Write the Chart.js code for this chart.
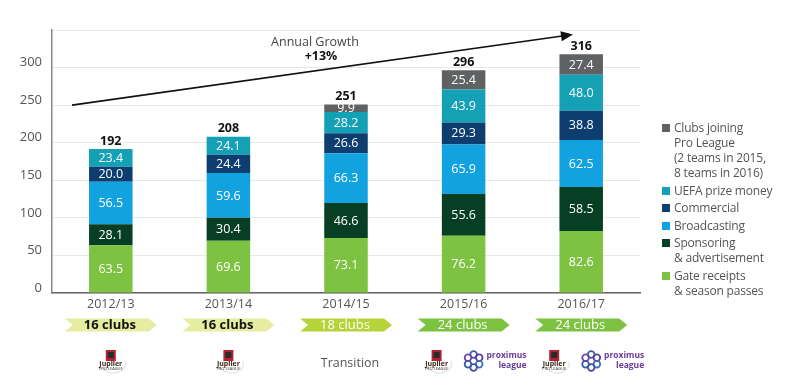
<!DOCTYPE html>
<html>
<head>
<meta charset="utf-8">
<script src="https://cdn.jsdelivr.net/npm/chart.js@4.4.0/dist/chart.umd.min.js"></script>
<style>
  html, body { margin: 0; padding: 0; background: #fff; }
  #wrap { position: relative; width: 800px; height: 387px; }
  #legend { position: absolute; left: 662px; top: 120px; font-family: "Open Sans", sans-serif; font-size: 12px; letter-spacing: -0.2px; color: #555; line-height: 15px; }
  #legend .item { position: relative; padding-left: 12px; margin-bottom: 2.5px; }
  #legend .sw { position: absolute; left: 0; top: 4px; width: 8px; height: 8px; }
</style>
</head>
<body>
<div id="wrap">
  <canvas id="c" width="800" height="387"></canvas>
  <div id="legend"></div>
</div>
<script>
const seasons = ["2012/13", "2013/14", "2014/15", "2015/16", "2016/17"];
const gateReceipts = [63.5, 69.6, 73.1, 76.2, 82.6];
const sponsoring = [28.1, 30.4, 46.6, 55.6, 58.5];
const broadcasting = [56.5, 59.6, 66.3, 65.9, 62.5];
const commercial = [20.0, 24.4, 26.6, 29.3, 38.8];
const uefaPrize = [23.4, 24.1, 28.2, 43.9, 48.0];
const clubsJoining = [null, null, 9.9, 25.4, 27.4];
const totals = [192, 208, 251, 296, 316];
const clubCounts = ["16 clubs", "16 clubs", "18 clubs", "24 clubs", "24 clubs"];
const leagueLogos = ["jupiler", "jupiler", "transition", "both", "both"];
const yTicks = [0, 50, 100, 150, 200, 250, 300];

const FONT = "'Open Sans', sans-serif";
const $ = (id) => document.getElementById(id);

const series = [
  { label: "Gate receipts\n& season passes", data: gateReceipts, color: "#7dc241" },
  { label: "Sponsoring\n& advertisement", data: sponsoring, color: "#073f24" },
  { label: "Broadcasting", data: broadcasting, color: "#12a2e0" },
  { label: "Commercial", data: commercial, color: "#0e3e70" },
  { label: "UEFA prize money", data: uefaPrize, color: "#14a1b5" },
  { label: "Clubs joining\nPro League\n(2 teams in 2015,\n8 teams in 2016)", data: clubsJoining, color: "#5f6163" }
];

function renderLegend() {
  const box = $("legend");
  [...series].reverse().forEach((s) => {
    const d = document.createElement("div");
    d.className = "item";
    d.innerHTML = `<span class="sw" style="background:${s.color}"></span>${s.label.replace(/\n/g, "<br>")}`;
    box.appendChild(d);
  });
}

function chevron(ctx, cx, cy, w, h, fill) {
  const l = cx - w / 2, r = cx + w / 2, n = 8;
  ctx.beginPath();
  ctx.moveTo(l, cy - h / 2);
  ctx.lineTo(r, cy - h / 2);
  ctx.lineTo(r + n, cy);
  ctx.lineTo(r, cy + h / 2);
  ctx.lineTo(l, cy + h / 2);
  ctx.lineTo(l + n, cy);
  ctx.closePath();
  ctx.fillStyle = fill;
  ctx.fill();
}

function jupilerLogo(ctx, cx, cy) {
  ctx.save();
  ctx.strokeStyle = "#e4e4e4";
  ctx.lineWidth = 1.2;
  ctx.beginPath();
  ctx.ellipse(cx + 3, cy + 4, 12, 9, 0, -0.3, Math.PI * 0.9);
  ctx.stroke();
  ctx.fillStyle = "#b52034";
  ctx.fillRect(cx - 5, cy - 10, 10, 11);
  ctx.fillStyle = "#2a2a2a";
  ctx.fillRect(cx - 3, cy - 8, 6, 6);
  ctx.fillStyle = "#3a2a1a";
  ctx.font = "bold 7px " + FONT;
  ctx.textAlign = "center";
  ctx.textBaseline = "middle";
  ctx.fillText("Jupiler", cx, cy + 4);
  ctx.font = "4px " + FONT;
  ctx.fillText("PRO LEAGUE", cx, cy + 9);
  ctx.restore();
}

function proximusLogo(ctx, cx, cy) {
  ctx.save();
  const cols = ["#3d59a8", "#5b3c96", "#3b6fb6", "#4a4aa0", "#2f5ea8", "#6a4aa0"];
  for (let k = 0; k < 6; k++) {
    const a = (k / 6) * Math.PI * 2 - Math.PI / 2;
    ctx.beginPath();
    ctx.arc(cx + Math.cos(a) * 6.5, cy + Math.sin(a) * 6.5, 3.3, 0, Math.PI * 2);
    ctx.strokeStyle = cols[k];
    ctx.lineWidth = 1.8;
    ctx.stroke();
  }
  ctx.fillStyle = "#6a3d9a";
  ctx.font = "bold 8.5px " + FONT;
  ctx.textAlign = "right";
  ctx.textBaseline = "middle";
  ctx.fillText("proximus", cx + 53, cy - 5);
  ctx.fillText("league", cx + 53, cy + 5);
  ctx.restore();
}

const decorations = {
  id: "decorations",
  afterDatasetsDraw(chart) {
    const { ctx, scales: { x, y } } = chart;
    ctx.save();
    // segment values
    ctx.font = "12.5px " + FONT;
    ctx.textAlign = "center";
    ctx.textBaseline = "middle";
    ctx.fillStyle = "#fff";
    chart.data.datasets.forEach((ds, di) => {
      const meta = chart.getDatasetMeta(di);
      meta.data.forEach((bar, i) => {
        const v = ds.data[i];
        if (v == null) return;
        ctx.fillText(v.toFixed(1), bar.x, (bar.y + bar.base) / 2 + 0.5);
      });
    });
    // totals
    ctx.font = "bold 12.5px " + FONT;
    ctx.fillStyle = "#111";
    totals.forEach((t, i) => {
      const sum = series.reduce((a, s) => a + (s.data[i] || 0), 0);
      ctx.fillText(String(t), x.getPixelForValue(i), y.getPixelForValue(sum) - 8);
    });
    // growth arrow
    const x0 = x.getPixelForValue(-0.33), y0 = y.getPixelForValue(250);
    const x1 = x.getPixelForValue(3.93), y1 = y.getPixelForValue(344);
    const ang = Math.atan2(y1 - y0, x1 - x0);
    ctx.strokeStyle = "#111";
    ctx.lineWidth = 1.6;
    ctx.beginPath();
    ctx.moveTo(x0, y0);
    ctx.lineTo(x1 - 9 * Math.cos(ang), y1 - 9 * Math.sin(ang));
    ctx.stroke();
    ctx.fillStyle = "#111";
    ctx.beginPath();
    ctx.moveTo(x1, y1);
    ctx.lineTo(x1 - 12 * Math.cos(ang) + 5 * Math.sin(ang), y1 - 12 * Math.sin(ang) - 5 * Math.cos(ang));
    ctx.lineTo(x1 - 12 * Math.cos(ang) - 5 * Math.sin(ang), y1 - 12 * Math.sin(ang) + 5 * Math.cos(ang));
    ctx.closePath();
    ctx.fill();
    ctx.font = "12.5px " + FONT;
    ctx.fillStyle = "#444";
    ctx.fillText("Annual Growth", 315, 42);
    ctx.font = "bold 12.5px " + FONT;
    ctx.fillStyle = "#111";
    ctx.fillText("+13%", 321, 56);
    // club count chevrons
    const chevFill = ["#e6eda1", "#e6eda1", "#b6d43a", "#7dc241", "#7dc241"];
    const chevText = ["#111", "#111", "#fff", "#fff", "#fff"];
    clubCounts.forEach((c, i) => {
      const cx = x.getPixelForValue(i) - 4;
      chevron(ctx, cx, 325, 84, 13, chevFill[i]);
      ctx.font = (i < 2 ? "bold " : "") + "13px " + FONT;
      ctx.fillStyle = chevText[i];
      ctx.fillText(c, cx + 3, 325.5);
    });
    // league logos
    leagueLogos.forEach((l, i) => {
      const cx = x.getPixelForValue(i);
      if (l === "jupiler") jupilerLogo(ctx, cx, 360);
      if (l === "transition") {
        ctx.font = "12.5px " + FONT;
        ctx.fillStyle = "#555";
        ctx.textAlign = "center";
        ctx.fillText("Transition", cx + 4, 363);
      }
      if (l === "both") {
        jupilerLogo(ctx, cx - 27, 360);
        proximusLogo(ctx, cx + 10, 361);
      }
    });
    ctx.restore();
  }
};

renderLegend();

new Chart($("c"), {
  type: "bar",
  data: {
    labels: seasons,
    datasets: series.map((s) => ({
      label: s.label,
      data: s.data,
      backgroundColor: s.color,
      borderWidth: 0,
      barPercentage: 0.37,
      categoryPercentage: 1
    }))
  },
  options: {
    responsive: false,
    animation: false,
    layout: { padding: { top: 30, right: 160, bottom: 76, left: 0 } },
    plugins: { legend: { display: false }, tooltip: { enabled: false } },
    scales: {
      x: {
        stacked: true,
        grid: { display: false, drawTicks: false },
        border: { color: "#666", width: 1.5 },
        ticks: { color: "#555", font: { family: FONT, size: 12.5 }, padding: 4 },
        afterFit: (s) => { s.height = 18; }
      },
      y: {
        stacked: true,
        min: 0,
        max: 350,
        afterFit: (s) => { s.width = 52; },
        afterBuildTicks: (s) => { s.ticks = yTicks.concat([350]).map((v) => ({ value: v })); },
        border: { color: "#888", width: 1.5 },
        grid: { color: "#e8e8e8", drawTicks: false },
        ticks: {
          color: "#555",
          padding: 10,
          labelOffset: -5,
          font: { family: FONT, size: 13 },
          callback: (v) => (yTicks.includes(v) ? String(v) : "")
        }
      }
    }
  },
  plugins: [decorations]
});
</script>
</body>
</html>
